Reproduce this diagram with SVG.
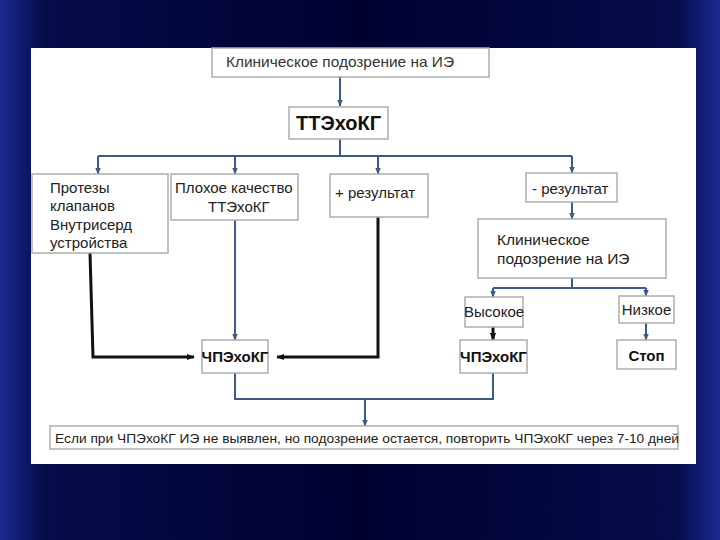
<svg xmlns="http://www.w3.org/2000/svg" width="720" height="540" viewBox="0 0 720 540">
<defs>
<linearGradient id="bg" x1="0" y1="0" x2="1" y2="0">
<stop offset="0" stop-color="#1c2a90"/>
<stop offset="0.06" stop-color="#060c4a"/>
<stop offset="0.5" stop-color="#000030"/>
<stop offset="0.94" stop-color="#060c4a"/>
<stop offset="1" stop-color="#1c2a90"/>
</linearGradient>
<marker id="ab" viewBox="0 0 10 10" refX="9" refY="5" markerWidth="7" markerHeight="7" orient="auto" markerUnits="userSpaceOnUse">
<path d="M0,1 L10,5 L0,9 z" fill="#3b5a86"/>
</marker>
<marker id="ak" viewBox="0 0 10 10" refX="9" refY="5" markerWidth="8" markerHeight="8" orient="auto" markerUnits="userSpaceOnUse">
<path d="M0,1 L10,5 L0,9 z" fill="#111"/>
</marker>
</defs>
<style>
.box{fill:#fff;stroke:#adadad;stroke-width:1.5}
.t{font-family:"Liberation Sans",Arial,sans-serif;font-size:15px;fill:#222}
.b{font-family:"Liberation Sans",Arial,sans-serif;font-weight:bold;fill:#111}
.cb{fill:none;stroke:#3b5a86;stroke-width:2}
.ck{fill:none;stroke:#111;stroke-width:3}
</style>
<rect width="720" height="540" fill="url(#bg)"/>
<rect x="31" y="48" width="665" height="416" fill="#fff"/>

<g id="connectors">
<path class="cb" d="M340,77 V106" marker-end="url(#ab)"/>
<path class="cb" d="M340,139 V156 M98,156 H572"/>
<path class="cb" d="M98,156 V174" marker-end="url(#ab)"/>
<path class="cb" d="M235,156 V174" marker-end="url(#ab)"/>
<path class="cb" d="M378,156 V174" marker-end="url(#ab)"/>
<path class="cb" d="M572,156 V173" marker-end="url(#ab)"/>
<path class="cb" d="M572,202 V219" marker-end="url(#ab)"/>
<path class="cb" d="M572,278 V288 M493,288 H646"/>
<path class="cb" d="M493,288 V297" marker-end="url(#ab)"/>
<path class="cb" d="M646,288 V296" marker-end="url(#ab)"/>
<path class="cb" d="M235,220 V340" marker-end="url(#ab)"/>
<path class="ck" d="M90,253 L93,357 H194" marker-end="url(#ak)"/>
<path class="ck" d="M378,217 V357 H277" marker-end="url(#ak)"/>
<path class="ck" d="M493,327 V340" marker-end="url(#ak)"/>
<path class="cb" d="M646,323 V340" marker-end="url(#ab)"/>
<path class="cb" d="M235,373 V399 H493 V373"/>
<path class="cb" d="M365,399 V426" marker-end="url(#ab)"/>
</g>

<g id="n1"><rect class="box" x="212" y="48" width="277" height="29"/>
<text class="t" x="226" y="67" style="fill:#333" textLength="228" lengthAdjust="spacingAndGlyphs">Клиническое подозрение на ИЭ</text></g>

<g id="n2"><rect class="box" x="289" y="107" width="99" height="32"/>
<text class="b" x="338.5" y="130" text-anchor="middle" font-size="20">ТТЭхоКГ</text></g>

<g id="n3"><rect class="box" x="32" y="174" width="136" height="79"/>
<text class="t" x="50" y="193">Протезы</text>
<text class="t" x="50" y="211">клапанов</text>
<text class="t" x="50" y="230">Внутрисерд</text>
<text class="t" x="50" y="248">устройства</text></g>

<g id="n4"><rect class="box" x="171" y="174" width="127" height="46"/>
<text class="t" x="175" y="193">Плохое качество</text>
<text class="t" x="208" y="212">ТТЭхоКГ</text></g>

<g id="n5"><rect class="box" x="330" y="174" width="98" height="43"/>
<text class="t" x="335" y="198">+ результат</text></g>

<g id="n6"><rect class="box" x="526" y="173" width="91" height="29"/>
<text class="t" x="532" y="194">- результат</text></g>

<g id="n7"><rect class="box" x="478" y="219" width="188" height="59"/>
<text class="t" x="497" y="245" style="font-size:15.5px">Клиническое</text>
<text class="t" x="497" y="264" style="font-size:15.5px">подозрение на ИЭ</text></g>

<g id="n8"><rect class="box" x="465" y="297" width="58" height="30"/>
<text class="t" x="494" y="317" text-anchor="middle">Высокое</text></g>

<g id="n9"><rect class="box" x="619" y="296" width="55" height="27"/>
<text class="t" x="646.5" y="315" text-anchor="middle">Низкое</text></g>

<g id="n10"><rect class="box" x="202" y="340" width="66" height="33"/>
<text class="b" x="235" y="362" text-anchor="middle" font-size="15">ЧПЭхоКГ</text></g>

<g id="n11"><rect class="box" x="460" y="340" width="67" height="33"/>
<text class="b" x="493.5" y="362" text-anchor="middle" font-size="15">ЧПЭхоКГ</text></g>

<g id="n12"><rect class="box" x="617" y="340" width="59" height="29"/>
<text class="b" x="646.5" y="361" text-anchor="middle" font-size="15">Стоп</text></g>

<g id="n13"><rect class="box" x="50" y="426" width="628" height="23"/>
<text class="t" x="55" y="443" style="font-size:13.5px" textLength="624" lengthAdjust="spacingAndGlyphs">Если при ЧПЭхоКГ ИЭ не выявлен, но подозрение остается, повторить ЧПЭхоКГ через 7-10 дней</text></g>
</svg>
